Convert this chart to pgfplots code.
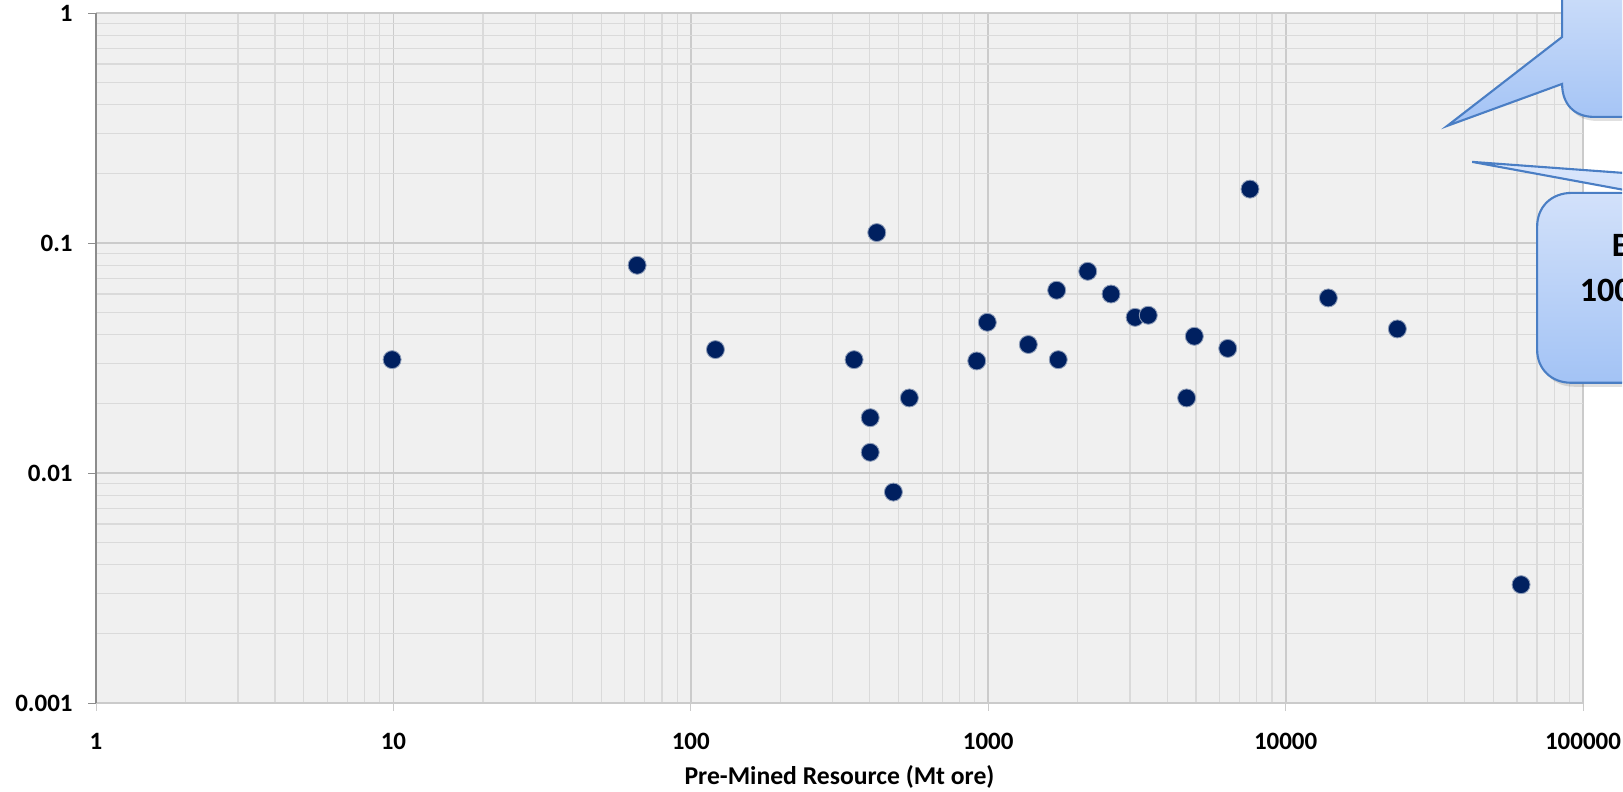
\documentclass[border=0pt]{standalone}
\usepackage{pgfplots}
\pgfplotsset{compat=1.18}
\usepackage{fontspec}
\setmainfont{Carlito}
\definecolor{bgcol}{HTML}{F0F0F0}
\definecolor{gridmaj}{HTML}{CBCBCB}
\definecolor{gridmin}{HTML}{DADADA}
\definecolor{navy}{HTML}{002060}
\definecolor{calltop}{HTML}{DAE6FB}
\definecolor{callbot}{HTML}{A3C3F5}
\definecolor{callline}{HTML}{4A7EC4}
\begin{document}
\begin{tikzpicture}
\useasboundingbox (0,0) rectangle (16.23,7.92);
\begin{axis}[
  at={(0.96cm,0.89cm)}, anchor=south west,
  scale only axis, width=14.87cm, height=6.90cm,
  xmode=log, ymode=log,
  xmin=1, xmax=100000, ymin=0.001, ymax=1,
  axis background/.style={fill=bgcol},
  grid=both,
  major grid style={draw=gridmaj, line width=0.5pt},
  minor grid style={draw=gridmin, line width=0.35pt},
  axis lines=left,
  axis line style={-},
  x axis line style={draw=gridmaj},
  y axis line style={draw=gray!90},
  xtick={1,10,100,1000,10000,100000},
  xticklabels={1,10,100,1000,10000,100000},
  minor xtick={2,3,4,5,6,7,8,9,20,30,40,50,60,70,80,90,200,300,400,500,600,700,800,900,2000,3000,4000,5000,6000,7000,8000,9000,20000,30000,40000,50000,60000,70000,80000,90000},
  ytick={0.001,0.01,0.1,1},
  yticklabels={0.001,0.01,0.1,1},
  minor ytick={0.002,0.003,0.004,0.005,0.006,0.007,0.008,0.009,0.02,0.03,0.04,0.05,0.06,0.07,0.08,0.09,0.2,0.3,0.4,0.5,0.6,0.7,0.8,0.9},
  tick align=outside,
  major tick length=0.08cm,
  minor tick length=0pt,
  xtick style={draw=gridmaj},
  ytick style={draw=gray!90},
  ticklabel style={font=\fontsize{7.1}{8}\selectfont\bfseries},
  xticklabel style={anchor=north, yshift=-0.1cm},
  yticklabel style={anchor=east, xshift=-0.03cm},
  xlabel={Pre-Mined Resource (Mt ore)},
  xlabel style={at={(axis description cs:0.5,0)}, anchor=center, yshift=-0.74cm, font=\fontsize{7.3}{8}\selectfont\bfseries},
  clip=false,
]
\addplot[only marks, mark=*, mark size=0.09cm,
  mark options={fill=navy, draw=white!55!navy, line width=0.25pt}] coordinates {
(9.9,0.0311) (66,0.080) (121,0.0344) (354,0.0311) (401,0.0174) (401,0.0123)
(422,0.111) (480,0.00826) (543,0.0212) (915,0.0307) (993,0.0452) (1364,0.0362)
(1699,0.0623) (1720,0.0311) (2161,0.0753) (2588,0.060) (3118,0.0475) (3453,0.0485)
(4647,0.0212) (4932,0.0393) (6389,0.0348) (7590,0.1715) (13920,0.0577)
(23750,0.0423) (61900,0.00327)};
\end{axis}
\begin{scope}[x=0.01cm, y=-0.01cm, shift={(0,7.92cm)}]
\clip (0,0) rectangle (1623,792);
% shadows
\fill[black, opacity=0.12]
  ([shift={(3,4)}]1750,-60) -- ([shift={(3,4)}]1563,-60) -- ([shift={(3,4)}]1563,84)
  .. controls ([shift={(3,4)}]1563,104) and ([shift={(3,4)}]1575,117) .. ([shift={(3,4)}]1595,117) -- ([shift={(3,4)}]1750,117) -- cycle;
\fill[black, opacity=0.12]
  (1541,231) .. controls (1541,211) and (1555,197) .. (1576,197) -- (2000,197) -- (2000,387) -- (1575,387)
  .. controls (1555,387) and (1541,373) .. (1541,354) -- cycle;
% top callout
\path[draw=callline, line width=0.6pt, top color=calltop, bottom color=callbot]
  (1750,-60) -- (1563,-60) -- (1563,37) -- (1448,126) -- (1563,84)
  .. controls (1563,104) and (1575,117) .. (1595,117) -- (1750,117) -- cycle;
% lower callout
\path[draw=callline, line width=0.6pt, top color=calltop, bottom color=callbot]
  (1538,227) .. controls (1538,207) and (1552,193) .. (1573,193) -- (1641,193)
  -- (1473,162) -- (1898,193) -- (2000,193) -- (2000,383) -- (1572,383)
  .. controls (1552,383) and (1538,369) .. (1538,350) -- cycle;
\node[anchor=base west, inner sep=0, font=\fontsize{9.7}{11}\selectfont\bfseries] at (1612,257) {B};
\node[anchor=base west, inner sep=0, font=\fontsize{9.7}{11}\selectfont\bfseries] at (1580,302) {100};
\end{scope}
\end{tikzpicture}
\end{document}
